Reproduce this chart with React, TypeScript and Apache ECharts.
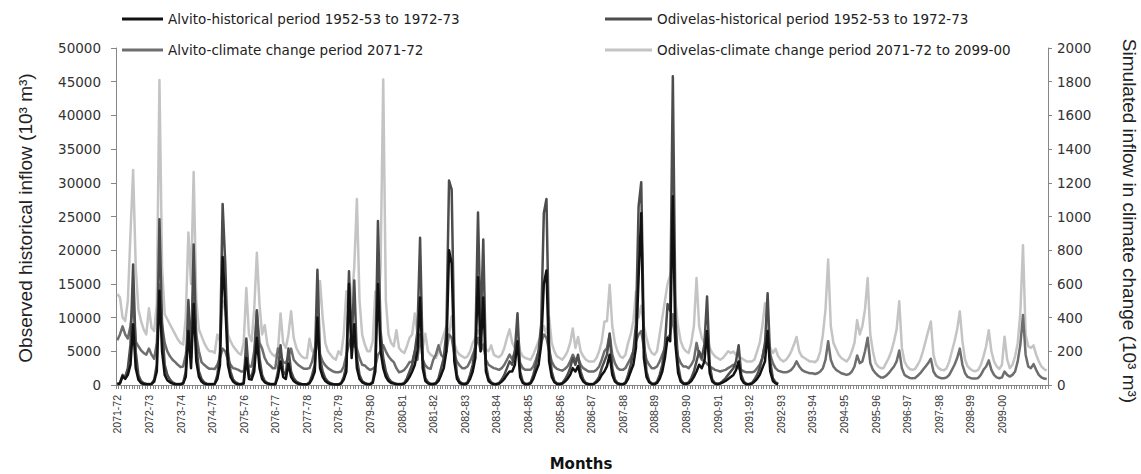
import React, { useEffect, useRef } from "react";
import * as echarts from "echarts";

// Hydrological years shown on the category axis (12 months each, plus 6 trailing months)
const yearLabels = [
  "2071-72", "2072-73", "2073-74", "2074-75", "2075-76", "2076-77", "2077-78", "2078-79",
  "2079-80", "2080-81", "2081-82", "2082-83", "2083-84", "2084-85", "2085-86", "2086-87",
  "2087-88", "2088-89", "2089-90", "2090-91", "2091-92", "2092-93", "2093-94", "2094-95",
  "2095-96", "2096-97", "2097-98", "2098-99", "2099-00",
];
const trailingLabel = "2100-01";
const trailingMonths = 6;

const seriesNames = {
  alvitoHist: "Alvito-historical period 1952-53 to 1972-73",
  odivelasHist: "Odivelas-historical period 1952-53 to 1972-73",
  alvitoCC: "Alvito-climate change period 2071-72",
  odivelasCC: "Odivelas-climate change period 2071-72 to 2099-00",
};

// Observed historical inflow, Alvito (10^3 m3, left axis) – 21 years
const alvitoHist: number[][] = [
  [100, 200, 1300, 900, 1500, 3000, 9000, 2500, 800, 300, 150, 100],
  [100, 150, 500, 2000, 14000, 5000, 1500, 700, 400, 200, 100, 100],
  [100, 200, 1200, 8000, 2500, 12000, 3500, 1200, 500, 200, 100, 100],
  [100, 150, 900, 3000, 19000, 12000, 3000, 1200, 500, 200, 100, 100],
  [200, 4000, 900, 800, 2000, 7000, 2500, 900, 400, 200, 100, 100],
  [100, 1200, 3500, 1200, 900, 3200, 1200, 600, 300, 150, 100, 100],
  [80, 250, 900, 2000, 10000, 2500, 1200, 600, 300, 150, 100, 80],
  [80, 200, 800, 2000, 15000, 4000, 9000, 2500, 900, 400, 200, 100],
  [100, 300, 2000, 15000, 5000, 2500, 1200, 600, 300, 200, 100, 100],
  [100, 200, 600, 1200, 2000, 3000, 5000, 13000, 2500, 600, 250, 100],
  [100, 200, 600, 1500, 2500, 5000, 20000, 18000, 3500, 900, 300, 150],
  [100, 250, 900, 2000, 4000, 16000, 5000, 13000, 2000, 600, 250, 100],
  [100, 200, 500, 900, 1500, 2000, 2000, 3000, 6500, 1200, 300, 100],
  [100, 250, 900, 2000, 3000, 6000, 15000, 17000, 3500, 1200, 400, 150],
  [100, 200, 500, 900, 1500, 2500, 2000, 2800, 1200, 500, 200, 100],
  [100, 150, 400, 800, 1500, 2000, 2800, 4500, 1500, 500, 200, 100],
  [100, 250, 900, 2000, 3000, 5500, 16000, 25500, 4000, 1200, 400, 150],
  [100, 300, 900, 2000, 4000, 7000, 6500, 28000, 6000, 1800, 500, 200],
  [150, 250, 600, 1200, 2000, 3000, 2500, 3500, 8000, 1800, 500, 200],
  [100, 200, 400, 600, 900, 1200, 1500, 2200, 3500, 900, 300, 100],
  [100, 200, 500, 900, 1500, 2500, 3500, 8000, 2000, 600, 250, 100],
];

// Observed historical inflow, Odivelas (10^3 m3, left axis) – 21 years
const odivelasHist: number[][] = [
  [200, 300, 1500, 1200, 2500, 6000, 17860, 5000, 1500, 600, 300, 200],
  [150, 200, 800, 3000, 24600, 9000, 3000, 1500, 800, 400, 200, 150],
  [150, 300, 2000, 12600, 4000, 20850, 6000, 2000, 900, 400, 200, 150],
  [150, 200, 1500, 5000, 26840, 18000, 5000, 2000, 800, 400, 200, 150],
  [300, 6900, 1500, 1200, 3000, 11100, 4000, 1500, 600, 300, 200, 150],
  [150, 2000, 5900, 2000, 1500, 5400, 2000, 1000, 500, 300, 150, 100],
  [100, 400, 1500, 3000, 17100, 4000, 2000, 1000, 500, 250, 150, 100],
  [100, 300, 1200, 3000, 16870, 6000, 15500, 4000, 1500, 600, 300, 150],
  [150, 500, 3000, 24350, 8000, 4000, 2000, 1000, 500, 300, 200, 150],
  [150, 300, 1000, 2000, 3000, 5000, 8000, 21860, 4000, 1000, 400, 200],
  [200, 300, 1000, 2500, 4000, 8000, 30340, 29000, 6000, 1500, 500, 250],
  [200, 400, 1500, 3000, 6000, 25600, 8000, 21600, 3000, 1000, 400, 200],
  [150, 300, 800, 1500, 2500, 3500, 3000, 5000, 10630, 2000, 500, 200],
  [200, 400, 1500, 3000, 5000, 9000, 25500, 27590, 6000, 2000, 600, 250],
  [200, 300, 800, 1500, 2500, 4000, 3000, 4500, 2000, 800, 300, 150],
  [150, 200, 600, 1200, 2500, 3500, 4500, 7630, 2500, 800, 300, 150],
  [150, 400, 1500, 3000, 5000, 9000, 26500, 30090, 7000, 2000, 600, 250],
  [200, 500, 1500, 3000, 6000, 12000, 11000, 45800, 10000, 3000, 800, 300],
  [250, 400, 1000, 2000, 3500, 5000, 4000, 6000, 13130, 3000, 800, 300],
  [200, 300, 600, 1000, 1500, 2000, 2500, 3500, 5890, 1500, 500, 200],
  [150, 300, 800, 1500, 2500, 4000, 6000, 13620, 3500, 1000, 400, 200],
];

// Simulated inflow under climate change, Alvito (10^3 m3, right axis)
const alvitoCC: number[][] = [
  [266, 300, 348, 300, 276, 350, 497, 258, 230, 206, 190, 180],
  [216, 180, 156, 250, 596, 356, 250, 200, 170, 150, 136, 120],
  [106, 110, 180, 296, 250, 516, 296, 200, 136, 120, 106, 96],
  [96, 95, 120, 160, 216, 200, 150, 120, 100, 96, 90, 80],
  [80, 150, 110, 110, 200, 436, 250, 216, 160, 130, 116, 100],
  [100, 216, 180, 136, 130, 170, 216, 150, 130, 116, 105, 96],
  [96, 100, 140, 216, 260, 180, 140, 116, 100, 90, 80, 76],
  [76, 80, 110, 180, 240, 296, 230, 216, 160, 120, 116, 100],
  [90, 96, 110, 180, 200, 236, 200, 170, 150, 136, 100, 76],
  [80, 90, 110, 136, 136, 200, 150, 300, 150, 116, 100, 96],
  [150, 180, 236, 180, 160, 200, 300, 280, 180, 140, 116, 100],
  [100, 110, 140, 180, 220, 280, 200, 240, 150, 120, 110, 100],
  [96, 90, 100, 120, 150, 180, 150, 200, 250, 130, 100, 90],
  [90, 90, 110, 150, 200, 250, 300, 280, 200, 140, 110, 96],
  [90, 85, 95, 110, 140, 180, 150, 160, 120, 100, 90, 80],
  [80, 80, 90, 110, 150, 200, 220, 300, 180, 130, 100, 90],
  [90, 100, 130, 160, 200, 260, 300, 320, 220, 150, 120, 100],
  [100, 110, 140, 180, 220, 280, 300, 420, 250, 170, 130, 110],
  [110, 100, 120, 150, 250, 180, 150, 140, 126, 110, 100, 90],
  [85, 80, 85, 90, 100, 110, 120, 110, 100, 90, 80, 75],
  [75, 75, 80, 100, 120, 160, 250, 305, 180, 130, 100, 85],
  [80, 75, 75, 80, 90, 110, 140, 110, 90, 80, 75, 70],
  [70, 65, 70, 80, 100, 150, 260, 150, 110, 90, 80, 70],
  [65, 60, 65, 80, 110, 175, 130, 140, 200, 280, 130, 90],
  [70, 55, 45, 45, 55, 70, 90, 110, 140, 205, 100, 60],
  [50, 42, 40, 42, 55, 70, 90, 110, 130, 156, 80, 55],
  [45, 40, 40, 45, 60, 90, 120, 160, 216, 120, 70, 48],
  [42, 38, 38, 42, 60, 90, 110, 146, 90, 60, 45, 40],
  [45, 80, 60, 50, 60, 80, 140, 240, 415, 180, 110, 100],
  [124, 90, 60, 45, 38, 35],
];

// Simulated inflow under climate change, Odivelas (10^3 m3, right axis)
const odivelasCC: number[][] = [
  [540, 520, 400, 380, 500, 900, 1276, 700, 450, 380, 330, 300],
  [455, 340, 320, 480, 1810, 700, 420, 390, 360, 330, 300, 270],
  [250, 240, 400, 905, 600, 1264, 500, 330, 290, 250, 220, 200],
  [200, 190, 300, 260, 500, 450, 300, 260, 230, 210, 190, 180],
  [250, 575, 300, 260, 450, 785, 480, 300, 355, 240, 200, 180],
  [170, 200, 425, 250, 220, 300, 437, 280, 220, 190, 170, 160],
  [160, 275, 200, 190, 300, 617, 400, 250, 200, 180, 160, 150],
  [200, 180, 300, 557, 400, 500, 700, 1104, 500, 300, 240, 200],
  [200, 260, 555, 400, 700, 1813, 500, 300, 250, 230, 325, 220],
  [200, 190, 230, 280, 300, 425, 300, 250, 220, 305, 200, 180],
  [170, 160, 200, 250, 300, 350, 300, 408, 250, 200, 180, 170],
  [160, 170, 200, 250, 280, 325, 280, 240, 210, 200, 235, 180],
  [170, 165, 180, 220, 280, 330, 250, 220, 300, 200, 170, 160],
  [155, 150, 180, 220, 260, 300, 350, 300, 405, 250, 200, 170],
  [160, 150, 170, 200, 250, 335, 220, 285, 200, 170, 150, 140],
  [140, 140, 160, 200, 260, 375, 380, 595, 350, 250, 200, 170],
  [160, 180, 250, 300, 380, 555, 400, 470, 350, 280, 220, 190],
  [180, 200, 300, 400, 500, 600, 650, 720, 500, 350, 260, 220],
  [200, 190, 250, 350, 635, 350, 280, 250, 290, 220, 190, 170],
  [160, 150, 160, 180, 200, 190, 198, 180, 170, 160, 150, 140],
  [140, 140, 150, 200, 250, 350, 485, 300, 220, 190, 215, 170],
  [150, 140, 150, 170, 200, 240, 285, 200, 170, 160, 150, 140],
  [140, 135, 150, 200, 300, 450, 745, 350, 250, 215, 180, 160],
  [150, 140, 160, 200, 250, 385, 300, 350, 450, 635, 300, 200],
  [130, 110, 100, 100, 130, 160, 200, 260, 330, 497, 220, 140],
  [110, 95, 90, 95, 120, 150, 200, 260, 320, 377, 180, 120],
  [100, 90, 88, 100, 140, 200, 260, 330, 437, 260, 150, 110],
  [95, 85, 82, 90, 120, 170, 230, 325, 200, 140, 110, 95],
  [120, 287, 150, 100, 120, 170, 250, 430, 830, 300, 230, 220],
  [235, 180, 140, 110, 95, 85],
];

const leftTicks = { min: 0, max: 50000, interval: 5000 };
const rightTicks = { min: 0, max: 2000, interval: 200 };

function buildCategories(): string[] {
  const cats: string[] = [];
  yearLabels.forEach((y) => {
    for (let m = 0; m < 12; m++) cats.push(`${y}#${m}`);
  });
  for (let m = 0; m < trailingMonths; m++) cats.push(`${trailingLabel}#${m}`);
  return cats;
}

export default function App() {
  const ref = useRef<HTMLDivElement>(null);

  useEffect(() => {
    if (!ref.current) return;
    const chart = echarts.init(ref.current, undefined, { renderer: "svg" });
    const categories = buildCategories();
    const axisColor = "#868686";
    const labelColor = "#333333";
    const plainNumber = (v: number) => String(v);

    const lineSeries = (name: string, rows: number[][], yAxisIndex: number, color: string, z: number) => ({
      name,
      type: "line",
      yAxisIndex,
      data: rows.flat(),
      symbol: "none",
      showSymbol: false,
      z,
      lineStyle: { color, width: 2.5, join: "round" },
      itemStyle: { color },
    });

    const legendText = { fontFamily: "DejaVu Sans", fontSize: 13.5, color: "#222" };

    chart.setOption({
      animation: false,
      backgroundColor: "#ffffff",
      grid: { left: 116, right: 93, top: 48, bottom: 89, containLabel: false },
      legend: [
        {
          orient: "vertical",
          left: 117,
          top: 7,
          icon: "rect",
          itemWidth: 41,
          itemHeight: 3,
          itemGap: 17,
          data: [seriesNames.alvitoHist, seriesNames.alvitoCC],
          textStyle: legendText,
        },
        {
          orient: "vertical",
          left: 600,
          top: 7,
          icon: "rect",
          itemWidth: 47,
          itemHeight: 3,
          itemGap: 17,
          data: [seriesNames.odivelasHist, seriesNames.odivelasCC],
          textStyle: legendText,
        },
      ],
      xAxis: {
        type: "category",
        data: categories,
        boundaryGap: true,
        axisLine: { lineStyle: { color: axisColor, width: 1 } },
        axisTick: { show: true, interval: 0, length: 4, lineStyle: { color: axisColor } },
        axisLabel: {
          interval: (i: number) => i % 12 === 0,
          rotate: 90,
          margin: 10,
          fontFamily: "Liberation Sans",
          fontSize: 10.5,
          color: labelColor,
          formatter: (v: string) => {
            const [y, m] = v.split("#");
            return m === "0" && y !== trailingLabel ? y : "";
          },
        },
        splitLine: { show: false },
      },
      yAxis: [
        {
          type: "value",
          position: "left",
          ...leftTicks,
          axisLine: { show: true, lineStyle: { color: axisColor } },
          axisTick: { show: true, length: 5, lineStyle: { color: axisColor } },
          axisLabel: { margin: 15, fontFamily: "DejaVu Sans", fontSize: 13.5, color: labelColor, formatter: plainNumber },
          splitLine: { show: false },
        },
        {
          type: "value",
          position: "right",
          ...rightTicks,
          axisLine: { show: true, lineStyle: { color: axisColor } },
          axisTick: { show: true, length: 4, lineStyle: { color: axisColor } },
          axisLabel: { margin: 9, fontFamily: "DejaVu Sans", fontSize: 13.5, color: labelColor, formatter: plainNumber },
          splitLine: { show: false },
        },
      ],
      series: [
        lineSeries(seriesNames.alvitoHist, alvitoHist, 0, "#111111", 5),
        lineSeries(seriesNames.odivelasHist, odivelasHist, 0, "#4d4d4d", 4),
        lineSeries(seriesNames.alvitoCC, alvitoCC, 1, "#6e6e6e", 3),
        lineSeries(seriesNames.odivelasCC, odivelasCC, 1, "#c4c4c4", 2),
      ],
      graphic: [
        {
          type: "text",
          x: 25,
          y: 218,
          rotation: Math.PI / 2,
          style: {
            text: "Observed historical inflow (10³ m³)",
            font: '19px "Liberation Sans"',
            fill: "#222",
            align: "center",
            verticalAlign: "middle",
            textAlign: "center",
            textVerticalAlign: "middle",
          },
        },
        {
          type: "text",
          x: 1129,
          y: 221,
          rotation: -Math.PI / 2,
          style: {
            text: "Simulated inflow in climate change (10³ m³)",
            font: '19px "Liberation Sans"',
            fill: "#222",
            align: "center",
            verticalAlign: "middle",
            textAlign: "center",
            textVerticalAlign: "middle",
          },
        },
        {
          type: "text",
          x: 581,
          y: 464,
          style: {
            text: "Months",
            font: 'bold 15px "DejaVu Sans"',
            fill: "#111",
            align: "center",
            verticalAlign: "middle",
            textAlign: "center",
            textVerticalAlign: "middle",
          },
        },
      ],
    });

    return () => chart.dispose();
  }, []);

  return (
    <div
      ref={ref}
      style={{ position: "absolute", left: 0, top: 0, width: 1141, height: 474, background: "#fff" }}
    />
  );
}
